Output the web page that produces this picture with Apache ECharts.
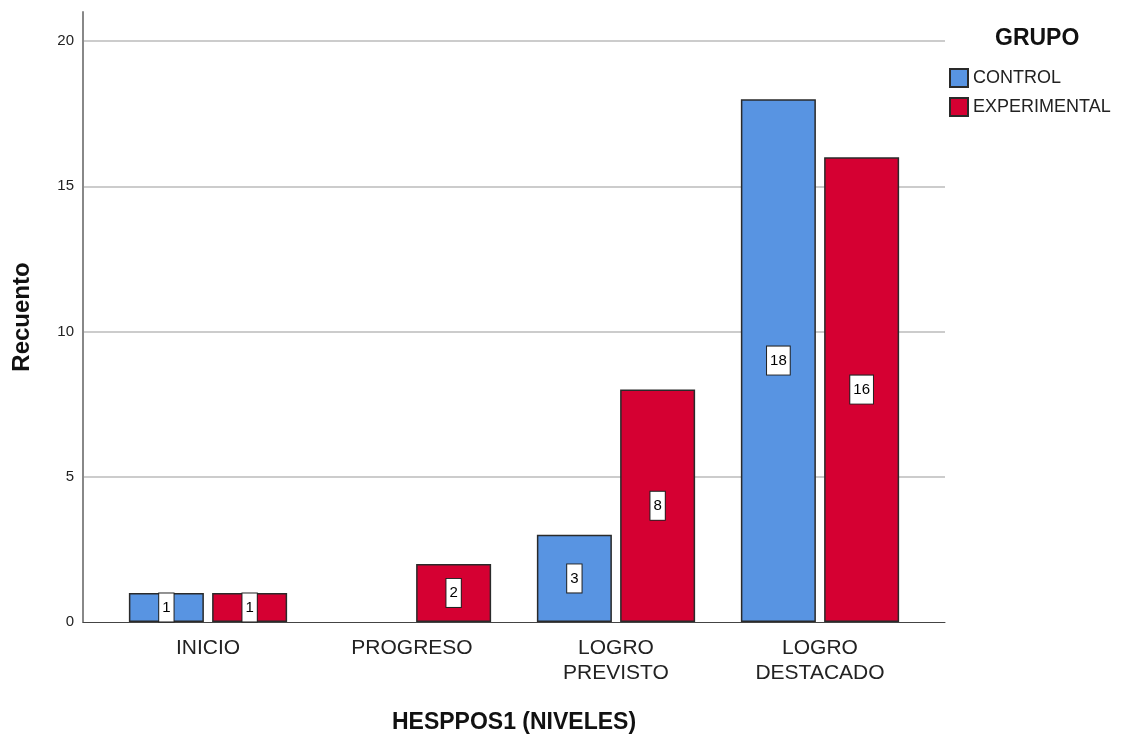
<!DOCTYPE html>
<html>
<head>
<meta charset="utf-8">
<script src="https://cdn.jsdelivr.net/npm/echarts@6/dist/echarts.min.js"></script>
<style>
  html, body { margin: 0; padding: 0; background: #fff; }
  #main { width: 1125px; height: 739px; }
</style>
</head>
<body>
<div id="main"></div>
<script>
var niveles = ['INICIO', 'PROGRESO', 'LOGRO\nPREVISTO', 'LOGRO\nDESTACADO'];
var grupos = ['CONTROL', 'EXPERIMENTAL'];
var control = [1, null, 3, 18];
var experimental = [1, 2, 8, 16];
var yTicks = { min: 0, max: 21, interval: 5 };

var font = 'Liberation Sans, Arial, sans-serif';
var myChart = echarts.init(document.getElementById('main'));

var labelBox = {
  show: true,
  position: 'inside',
  color: '#000',
  fontFamily: font,
  fontSize: 15,
  backgroundColor: '#fff',
  borderColor: '#222',
  borderWidth: 1,
  padding: [7, 3, 6, 3]
};

var option = {
  animation: false,
  title: {
    text: 'GRUPO',
    left: 990,
    top: 22,
    textStyle: { fontFamily: font, fontSize: 23, fontWeight: 'bold', color: '#111' }
  },
  legend: {
    data: grupos,
    orient: 'vertical',
    left: 944,
    top: 63,
    icon: 'rect',
    itemWidth: 18,
    itemHeight: 18,
    itemGap: 9,
    textStyle: { fontFamily: font, fontSize: 18, color: '#222' }
  },
  grid: [
    { left: 106, right: 203, top: 12, bottom: 117, outerBoundsMode: 'none' },
    { left: 83, right: 180, top: 12, bottom: 117, outerBoundsMode: 'none' }
  ],
  xAxis: [{
    gridIndex: 0,
    type: 'category',
    data: niveles,
    axisLine: { show: false },
    axisTick: { show: false },
    axisLabel: {
      margin: 14,
      fontFamily: font,
      fontSize: 21,
      lineHeight: 25,
      color: '#222'
    }
  }, {
    gridIndex: 1,
    type: 'value',
    min: 0,
    max: 1,
    axisLine: { show: true, lineStyle: { color: '#444', width: 1 } },
    axisTick: { show: false },
    axisLabel: { show: false },
    splitLine: { show: false },
    name: 'HESPPOS1 (NIVELES)',
    nameLocation: 'middle',
    nameGap: 89,
    nameTextStyle: { fontFamily: font, fontSize: 23, fontWeight: 'bold', color: '#111' }
  }],
  yAxis: [{
    gridIndex: 0,
    type: 'value',
    min: yTicks.min,
    max: yTicks.max,
    interval: yTicks.interval,
    show: false,
    splitLine: { show: false }
  }, {
    gridIndex: 1,
    type: 'value',
    min: yTicks.min,
    max: yTicks.max,
    interval: yTicks.interval,
    axisLine: { show: true, lineStyle: { color: '#888', width: 2 } },
    axisTick: { show: false },
    axisLabel: {
      margin: 9,
      fontFamily: font,
      fontSize: 15,
      color: '#222',
      showMaxLabel: false
    },
    splitLine: { show: true, showMinLine: false, showMaxLine: false, lineStyle: { color: '#ccc', width: 2 } },
    name: 'Recuento',
    nameLocation: 'middle',
    nameGap: 49,
    nameTextStyle: { fontFamily: font, fontSize: 24, fontWeight: 'bold', color: '#111' }
  }],
  series: [{
    name: grupos[0],
    type: 'bar',
    xAxisIndex: 0,
    yAxisIndex: 0,
    data: control,
    barWidth: 75,
    barGap: '11%',
    itemStyle: { color: '#5894e2', borderColor: '#2a2a2a', borderWidth: 1.5 },
    label: labelBox
  }, {
    name: grupos[1],
    type: 'bar',
    xAxisIndex: 0,
    yAxisIndex: 0,
    data: experimental,
    barWidth: 75,
    barGap: '11%',
    itemStyle: { color: '#d50032', borderColor: '#2a2a2a', borderWidth: 1.5 },
    label: labelBox
  }]
};
myChart.setOption(option);
</script>
</body>
</html>
